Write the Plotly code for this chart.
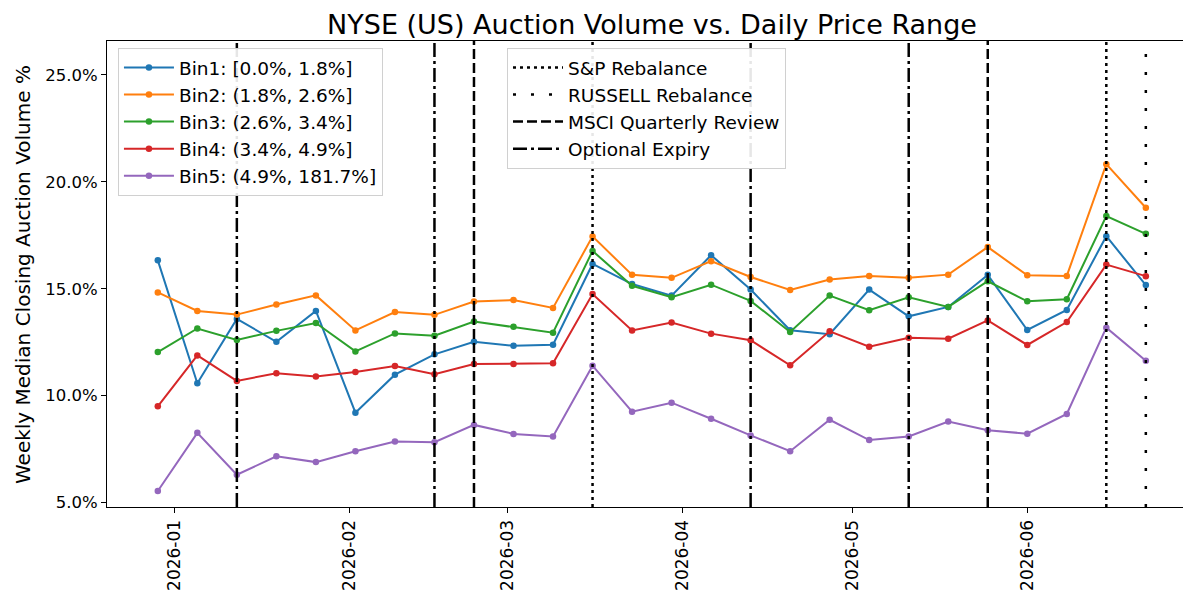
import plotly.graph_objects as go

weeks = ["2025-12-29", "2026-01-05", "2026-01-12", "2026-01-19", "2026-01-26",
         "2026-02-02", "2026-02-09", "2026-02-16", "2026-02-23", "2026-03-02",
         "2026-03-09", "2026-03-16", "2026-03-23", "2026-03-30", "2026-04-06",
         "2026-04-13", "2026-04-20", "2026-04-27", "2026-05-04", "2026-05-11",
         "2026-05-18", "2026-05-25", "2026-06-01", "2026-06-08", "2026-06-15",
         "2026-06-22"]

bin1 = [16.33, 10.58, 13.59, 12.52, 13.96, 9.20, 10.98, 11.93, 12.52, 12.33, 12.38, 16.16, 15.22,
        14.68, 16.57, 14.96, 13.06, 12.87, 14.96, 13.71, 14.15, 15.65, 13.07, 14.01, 17.46, 15.17]
bin2 = [14.83, 13.96, 13.79, 14.26, 14.69, 13.05, 13.91, 13.78, 14.40, 14.47, 14.10, 17.45, 15.65,
        15.51, 16.29, 15.55, 14.94, 15.43, 15.60, 15.51, 15.66, 16.95, 15.63, 15.60, 20.83, 18.79]
bin3 = [12.04, 13.14, 12.60, 13.03, 13.40, 12.07, 12.91, 12.80, 13.47, 13.22, 12.94, 16.77, 15.14,
        14.60, 15.19, 14.43, 12.98, 14.68, 14.00, 14.60, 14.15, 15.35, 14.41, 14.51, 18.40, 17.57]
bin4 = [9.50, 11.88, 10.69, 11.05, 10.89, 11.11, 11.39, 11.00, 11.48, 11.48, 11.51, 14.75, 13.05,
        13.42, 12.90, 12.59, 11.42, 13.01, 12.29, 12.71, 12.66, 13.52, 12.37, 13.44, 16.13, 15.59]
bin5 = [5.54, 8.26, 6.30, 7.16, 6.89, 7.40, 7.85, 7.82, 8.63, 8.21, 8.09, 11.40, 9.25,
        9.67, 8.92, 8.14, 7.40, 8.87, 7.92, 8.09, 8.79, 8.38, 8.22, 9.14, 13.18, 11.63]

bin_names = ["Bin1: [0.0%, 1.8%]", "Bin2: (1.8%, 2.6%]", "Bin3: (2.6%, 3.4%]",
             "Bin4: (3.4%, 4.9%]", "Bin5: (4.9%, 181.7%]"]
bin_colors = ["#1f77b4", "#ff7f0e", "#2ca02c", "#d62728", "#9467bd"]

sp_dates = ["2026-03-16", "2026-06-15"]
russell_dates = ["2026-06-22"]
msci_dates = ["2026-02-23", "2026-05-25"]
expiry_dates = ["2026-01-12", "2026-02-16", "2026-04-13", "2026-05-11"]

event_names = ["S&P Rebalance", "RUSSELL Rebalance", "MSCI Quarterly Review", "Optional Expiry"]
event_dates = [sp_dates, russell_dates, msci_dates, expiry_dates]
event_dashes = ["3px,4px", "3px,15px", "10px,4px", "14px,4px,3px,4px"]

month_ticks = ["2026-01-01", "2026-02-01", "2026-03-01", "2026-04-01", "2026-05-01", "2026-06-01"]
month_labels = ["2026-01", "2026-02", "2026-03", "2026-04", "2026-05", "2026-06"]
y_ticks = [5, 10, 15, 20, 25]
y_labels = ["5.0%", "10.0%", "15.0%", "20.0%", "25.0%"]

FONT = "DejaVu Sans"

fig = go.Figure()

for name, color, vals in zip(bin_names, bin_colors, [bin1, bin2, bin3, bin4, bin5]):
    fig.add_trace(go.Scatter(
        x=weeks, y=vals, mode="lines+markers", name=name,
        line=dict(color=color, width=2), marker=dict(color=color, size=6.5),
        legend="legend",
    ))

for name, dates, dash in zip(event_names, event_dates, event_dashes):
    xs, ys = [], []
    for d in dates:
        xs += [d, d, None]
        ys += [0, 1, None]
    fig.add_trace(go.Scatter(
        x=xs, y=ys, mode="lines", name=name, yaxis="y2",
        line=dict(color="black", width=2.5, dash=dash),
        legend="legend2", hoverinfo="skip",
    ))

fig.update_layout(
    width=1183, height=599,
    margin=dict(l=99, r=0, t=33, b=100),
    paper_bgcolor="white", plot_bgcolor="white",
    font=dict(family=FONT, color="black", size=17),
    title=dict(text="NYSE (US) Auction Volume vs. Daily Price Range",
               x=0.5444, xanchor="center", y=0.9716, yanchor="middle",
               font=dict(size=27, family=FONT, color="black")),
    xaxis=dict(
        type="date", range=["2025-12-20", "2026-06-30"],
        tickvals=month_ticks, ticktext=month_labels, tickangle=-90,
        ticks="outside", ticklen=5, tickwidth=1, tickcolor="black",
        showline=True, linecolor="black", linewidth=1.2, mirror=True,
        showgrid=False, zeroline=False, tickfont=dict(size=17),
    ),
    yaxis=dict(
        range=[4.79, 26.59], tickvals=y_ticks, ticktext=y_labels,
        ticks="outside", ticklen=5, tickwidth=1, tickcolor="black",
        showline=True, linecolor="black", linewidth=1.2,
        showgrid=False, zeroline=False, tickfont=dict(size=16.5),
    ),
    yaxis2=dict(overlaying="y", range=[0, 1], visible=False, fixedrange=True),
    legend=dict(x=0.0101, y=0.985, xanchor="left", yanchor="top",
                bgcolor="rgba(255,255,255,0.9)", bordercolor="#d0d0d0", borderwidth=1,
                itemwidth=50, font=dict(size=18.5, family=FONT)),
    legend2=dict(x=0.369, y=0.985, xanchor="left", yanchor="top",
                 bgcolor="rgba(255,255,255,0.9)", bordercolor="#d0d0d0", borderwidth=1,
                 itemwidth=50, font=dict(size=18.5, family=FONT)),
    showlegend=True,
    annotations=[dict(text="Weekly Median Closing Auction Volume %", textangle=-90,
                      xref="paper", yref="paper", x=-0.0775, y=0.5,
                      xanchor="center", yanchor="middle", showarrow=False,
                      font=dict(size=20, family=FONT, color="black"))],
)

fig.write_html("out.html")
